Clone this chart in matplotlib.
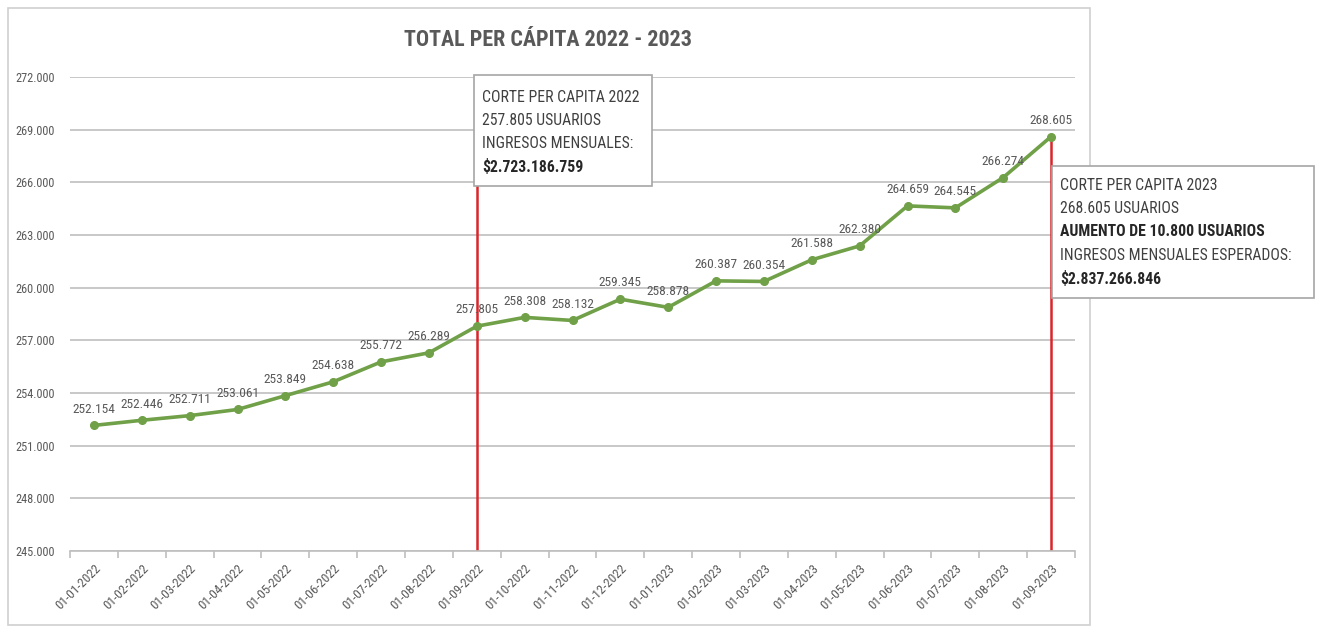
import matplotlib
matplotlib.use("Agg")
import matplotlib.pyplot as plt
from matplotlib.patches import Rectangle
from matplotlib import font_manager as fm

names = {f.name for f in fm.fontManager.ttflist}
FONT = "DejaVu Sans"
for cand in ["Liberation Sans Narrow", "Roboto Condensed", "Open Sans Condensed",
             "Noto Sans Condensed", "Liberation Sans"]:
    if cand in names:
        FONT = cand
        break
plt.rcParams["font.family"] = [FONT, "DejaVu Sans"]

dates = ["01-01-2022", "01-02-2022", "01-03-2022", "01-04-2022", "01-05-2022",
         "01-06-2022", "01-07-2022", "01-08-2022", "01-09-2022", "01-10-2022",
         "01-11-2022", "01-12-2022", "01-01-2023", "01-02-2023", "01-03-2023",
         "01-04-2023", "01-05-2023", "01-06-2023", "01-07-2023", "01-08-2023",
         "01-09-2023"]
usuarios = [252154, 252446, 252711, 253061, 253849, 254638, 255772, 256289,
            257805, 258308, 258132, 259345, 258878, 260387, 260354, 261588,
            262380, 264659, 264545, 266274, 268605]
y_ticks = [245000, 248000, 251000, 254000, 257000, 260000, 263000, 266000, 269000, 272000]
title = "TOTAL PER CÁPITA 2022 - 2023"
cut_2022 = "01-09-2022"
cut_2023 = "01-09-2023"


def fmt(v):
    return f"{v:,}".replace(",", ".")


W, H = 1317, 637
fig = plt.figure(figsize=(W / 100, H / 100), dpi=100)
fig.patch.set_facecolor("white")

# outer chart border
fig.add_artist(Rectangle((8 / W, 1 - 625 / H), (1090 - 8) / W, (625 - 8) / H,
                         transform=fig.transFigure, fill=False,
                         edgecolor="#d0d0d0", lw=1.2))

ax = fig.add_axes([70 / W, 1 - 551 / H, (1075 - 70) / W, (551 - 77) / H])
x = list(range(len(dates)))
ax.set_xlim(-0.5, len(dates) - 0.5)
ax.set_ylim(y_ticks[0], y_ticks[-1])

ax.set_yticks(y_ticks)
ax.set_yticklabels([fmt(v) for v in y_ticks], fontsize=8.8, color="#595959")
ax.grid(axis="y", color="#bfbfbf", lw=1.2)
ax.set_axisbelow(True)
ax.tick_params(axis="y", length=0, pad=11)

ax.set_xticks(x)
ax.set_xticklabels(dates, rotation=45, ha="right", rotation_mode="anchor",
                   fontsize=9.4, color="#595959")
ax.tick_params(axis="x", which="major", length=0, pad=8)
ax.set_xticks([i - 0.5 for i in range(len(dates) + 1)], minor=True)
ax.tick_params(axis="x", which="minor", length=5, color="#bfbfbf", width=1.2)

for s in ["top", "right", "left"]:
    ax.spines[s].set_visible(False)
ax.spines["bottom"].set_color("#bfbfbf")
ax.spines["bottom"].set_linewidth(1.2)

# red cut lines
i1 = dates.index(cut_2022)
i2 = dates.index(cut_2023)
ax.plot([i1, i1], [y_ticks[0], 266000], color="#d9262b", lw=1.8, zorder=2)
ax.plot([i2, i2], [y_ticks[0], usuarios[i2]], color="#d9262b", lw=1.8, zorder=2)

ax.plot(x, usuarios, color="#70a047", lw=2.6, marker="o", ms=5.5,
        markerfacecolor="#70a047", markeredgecolor="#70a047", zorder=3)

for xi, v in zip(x, usuarios):
    ax.annotate(fmt(v), (xi, v), xytext=(0, 7), textcoords="offset points",
                ha="center", va="bottom", fontsize=9.6, color="#595959", zorder=4)

fig.text(548 / W, 1 - 40 / H, title, ha="center", va="center",
         fontsize=15.8, fontweight="bold", color="#595959")

# annotation box 2022
fig.add_artist(Rectangle((474 / W, 1 - 186 / H), (652 - 474) / W, (186 - 75) / H,
                         transform=fig.transFigure, facecolor="white",
                         edgecolor="#a6a6a6", lw=1.2, zorder=5))
lines1 = [("CORTE PER CAPITA 2022", "normal"), ("257.805 USUARIOS", "normal"),
          ("INGRESOS MENSUALES:", "normal"), ("$2.723.186.759", "bold")]
for k, (t, w) in enumerate(lines1):
    fig.text(482 / W, 1 - (97 + k * 23.5) / H, t, ha="left", va="center",
             fontsize=11.3, fontweight=w, color="#262626" if w == "bold" else "#404040",
             zorder=6)

# annotation box 2023
fig.add_artist(Rectangle((1052 / W, 1 - 298 / H), (1314 - 1052) / W, (298 - 166) / H,
                         transform=fig.transFigure, facecolor="white",
                         edgecolor="#a6a6a6", lw=1.2, zorder=5))
lines2 = [("CORTE PER CAPITA 2023", "normal"), ("268.605 USUARIOS", "normal"),
          ("AUMENTO DE 10.800 USUARIOS", "bold"),
          ("INGRESOS MENSUALES ESPERADOS:", "normal"), ("$2.837.266.846", "bold")]
for k, (t, w) in enumerate(lines2):
    fig.text(1060 / W, 1 - (185 + k * 23.5) / H, t, ha="left", va="center",
             fontsize=11.3, fontweight=w, color="#262626" if w == "bold" else "#404040",
             zorder=6)

fig.savefig("out.png", dpi=100)
